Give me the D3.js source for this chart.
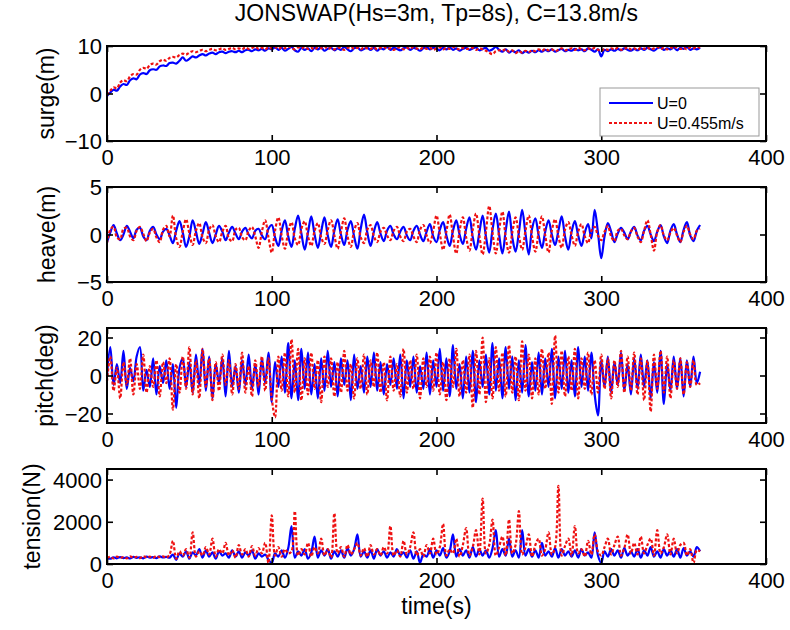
<!DOCTYPE html>
<html>
<head>
<meta charset="utf-8">
<script src="https://cdn.jsdelivr.net/npm/d3@7"></script>
<style>
  html, body { margin: 0; padding: 0; background: #fff; }
  svg { display: block; }
  text { font-family: "Liberation Sans", Arial, sans-serif; fill: #000; }
</style>
</head>
<body>
<svg id="chart" width="790" height="630"></svg>
<script>
// sample times (s), one every 2 s
const time = d3.range(0, 361, 2);

const titleText = "JONSWAP(Hs=3m, Tp=8s), C=13.8m/s";
const seriesNames = ["U=0", "U=0.455m/s"];
const xTicks = [0, 100, 200, 300, 400];

const surgeU0 = [
  -0.5, 0.2, 0.8, 0.6, 1.5, 2.0, 1.8, 2.8, 3.2, 3.0,
  4.0, 4.3, 4.1, 4.9, 5.1, 5.0, 5.7, 5.9, 5.8, 6.4,
  6.5, 6.3, 6.9, 7.6, 6.9, 7.3, 7.8, 7.6, 8.0, 8.3,
  8.0, 8.4, 8.6, 8.3, 8.7, 8.8, 8.5, 8.8, 8.9, 8.7,
  9.0, 8.7, 9.1, 9.2, 8.9, 9.3, 9.1, 9.4, 9.0, 9.5,
  9.3, 9.7, 9.2, 9.6, 9.0, 9.4, 9.8, 9.1, 8.8, 9.6,
  9.2, 9.5, 8.9, 9.6, 9.3, 9.7, 9.0, 9.4, 9.6, 9.1,
  9.5, 9.2, 9.8, 9.3, 8.9, 9.5, 9.7, 9.1, 9.4, 9.6,
  9.2, 9.6, 9.0, 9.5, 9.3, 9.8, 9.2, 9.6, 9.4, 9.1,
  9.5, 9.7, 9.2, 9.6, 9.4, 9.0, 9.5, 9.8, 9.3, 9.6,
  9.4, 9.1, 9.6, 9.3, 9.7, 9.2, 9.5, 9.0, 9.4, 9.6,
  9.2, 9.5, 9.7, 9.1, 9.4, 9.6, 9.0, 9.3, 9.8, 9.2,
  8.8, 9.3, 8.6, 9.0, 8.7, 9.1, 8.5, 8.9, 8.6, 9.0,
  8.7, 9.1, 8.8, 9.2, 8.9, 9.3, 8.8, 9.1, 9.4, 8.9,
  9.2, 9.0, 9.4, 9.1, 9.3, 8.9, 9.5, 9.2, 8.8, 9.3,
  7.8, 9.2, 8.9, 9.3, 9.0, 9.4, 9.1, 9.5, 9.2, 9.0,
  9.4, 9.1, 9.5, 9.2, 9.6, 9.3, 9.0, 9.5, 9.7, 9.2,
  9.5, 9.3, 9.7, 9.1, 9.6, 9.4, 9.8, 9.2, 9.5, 9.3,
  9.6
];
const surgeU455 = [
  -0.3, 0.6, 1.3, 1.1, 2.3, 2.8, 2.6, 3.6, 4.1, 4.0,
  5.0, 5.4, 5.2, 6.0, 6.3, 6.1, 6.8, 7.1, 6.9, 7.5,
  7.7, 7.6, 8.1, 8.4, 8.2, 8.6, 8.9, 8.7, 9.0, 9.2,
  8.9, 9.2, 9.4, 9.1, 9.3, 9.5, 9.2, 9.4, 9.6, 9.3,
  9.5, 9.3, 9.7, 9.4, 9.6, 9.8, 9.4, 9.6, 9.3, 9.7,
  9.5, 9.8, 9.4, 9.7, 9.5, 9.9, 9.6, 9.3, 9.7, 9.5,
  9.8, 9.4, 9.6, 9.3, 9.7, 9.5, 9.9, 9.4, 9.6, 9.3,
  9.7, 9.5, 9.2, 9.6, 9.8, 9.4, 9.6, 9.3, 9.7, 9.5,
  9.4, 9.7, 9.3, 9.6, 9.8, 9.4, 9.5, 9.2, 9.6, 9.7,
  9.3, 9.6, 9.4, 9.8, 9.5, 9.3, 9.7, 9.4, 9.6, 9.2,
  9.5, 9.7, 9.3, 9.6, 9.4, 9.8, 9.5, 9.3, 9.6, 9.4,
  9.4, 9.6, 9.2, 9.5, 9.3, 9.0, 8.6, 8.3, 8.9, 9.1,
  9.0, 9.3, 8.8, 9.1, 8.5, 8.9, 8.6, 9.0, 8.7, 9.1,
  8.9, 9.3, 9.0, 9.4, 9.1, 9.3, 8.9, 9.2, 9.5, 9.1,
  9.3, 9.5, 9.2, 9.6, 9.3, 9.1, 9.5, 9.3, 9.6, 9.2,
  9.0, 9.4, 9.2, 9.5, 9.3, 9.6, 9.2, 9.4, 9.7, 9.3,
  9.5, 9.2, 9.6, 9.4, 9.7, 9.3, 9.5, 9.8, 9.4, 9.6,
  9.3, 9.7, 9.5, 9.8, 9.4, 9.6, 9.3, 9.7, 9.5, 9.8,
  9.6
];

const heaveU0 = [
  -0.8, 0.2, 1.0, 0.1, -0.6, 0.0, 0.9, 0.3, -0.4, 0.5,
  0.7, -0.2, -0.6, 0.4, 0.8, 0.0, -0.5, 0.3, 0.6, -0.1,
  -0.9, 0.4, 1.4, 0.2, -1.3, -0.2, 1.5, 0.3, -1.0, 0.1,
  1.3, 0.2, -0.9, 0.0, 0.9, 0.3, -0.6, 0.2, 0.8, 0.1,
  -0.5, 0.3, 0.7, 0.0, -0.4, 0.4, 0.6, -0.1, -0.5, 0.6,
  1.0, -0.3, -1.2, 0.4, 1.5, -0.2, -1.3, 0.6, 2.0, 0.1,
  -1.6, 0.2, 1.9, 0.0, -1.4, 0.3, 1.8, -0.1, -1.3, 0.4,
  1.6, 0.0, -1.1, 0.5, 1.4, -0.2, -1.5, 0.6, 2.1, 0.2,
  -1.2, 0.3, 1.3, 0.1, -0.7, 0.4, 0.9, 0.0, -0.5, 0.3,
  0.8, -0.1, -0.6, 0.4, 0.9, 0.0, -0.7, 0.3, 1.1, -0.2,
  -0.8, 0.5, 1.3, -0.1, -1.2, 0.4, 1.5, 0.0, -1.0, 0.6,
  1.8, -0.3, -1.6, 0.2, 2.0, -0.2, -1.9, 0.5, 2.2, 0.0,
  -2.0, 0.4, 2.4, -0.3, -1.8, 0.2, 2.6, 0.1, -2.1, 0.6,
  1.7, -0.1, -1.4, 0.3, 1.5, 0.0, -1.1, 0.4, 1.9, -0.2,
  -1.6, 0.3, 1.4, -0.1, -1.2, 0.2, 1.1, -0.4, 2.6, 0.2,
  -2.5, -0.2, 1.2, 0.3, -0.8, 0.1, 0.7, 0.2, -0.5, 0.3,
  0.8, -0.1, -0.6, 0.4, 0.9, 0.0, -0.7, 0.3, 1.0, -0.2,
  -0.9, 0.4, 1.1, 0.0, -0.8, 0.5, 1.3, -0.1, -0.7, 0.4,
  1.0
];
const heaveU455 = [
  -0.9, 0.5, 0.8, -0.3, -0.5, 0.6, 0.7, -0.2, -0.6, 0.4,
  0.8, 0.1, -0.7, 0.2, 0.6, -0.3, -0.8, 0.5, 0.9, -0.2,
  2.0, -0.4, -1.3, 0.3, 1.6, 0.1, -1.1, 0.4, 1.2, -0.3,
  -0.9, 0.5, 1.0, -0.2, -0.8, 0.3, 0.9, -0.4, -0.7, 0.5,
  0.7, -0.3, -0.6, 0.4, 0.8, -0.2, -1.4, 0.3, 1.5, -0.3,
  -1.9, 0.4, 1.8, -0.1, -1.5, 0.3, 1.3, -0.4, -1.1, 0.6,
  1.4, -0.2, -1.2, 0.4, 1.2, -0.3, -1.0, 0.5, 1.5, -0.1,
  -1.5, 0.3, 1.7, -0.2, -1.3, 0.4, 1.2, -0.3, -0.9, 0.5,
  1.0, -0.2, -0.8, 0.3, 0.7, -0.1, -0.6, 0.4, 0.8, -0.2,
  -0.7, 0.3, 0.6, -0.2, -0.8, 0.5, 1.0, -0.1, -0.9, 0.4,
  2.0, 0.1, -1.6, 0.3, 2.1, -0.2, -2.0, 0.4, 1.8, -0.3,
  -1.7, 0.5, 2.2, -0.1, -2.1, 0.3, 3.0, 0.2, -2.0, 0.4,
  2.4, -0.3, -1.9, 0.2, 1.8, -0.1, -1.6, 0.4, 2.0, -0.2,
  -1.8, 0.3, 1.9, -0.1, -1.9, 0.4, 1.6, -0.2, -1.4, 0.5,
  1.3, -0.1, -1.2, 0.3, 1.1, -0.2, -0.9, 0.4, 0.8, -0.1,
  -0.6, 0.3, 0.9, -0.2, -0.7, 0.4, 0.6, -0.1, -0.5, 0.3,
  0.7, -0.2, -0.8, 0.4, 1.5, 0.0, -1.7, 0.3, 1.0, -0.1,
  -0.6, 0.2, 0.7, -0.1, -0.8, 0.3, 0.9, 0.0, -0.5, 0.4,
  0.6
];

const pitchU0 = [
  0, 15, -5, 6, -4, 13, -7, 4, -3, 10,
  15, -8, 3, -6, 9, -10, 5, -4, 8, -7,
  6, -17, 4, 9, -6, 7, -9, 11, -5, 14,
  -8, 10, -12, 6, -4, 9, -11, 13, -6, 5,
  -9, 8, -5, 11, -7, 6, -10, 9, -4, 12,
  -14, 7, -6, 10, -9, 17, -12, 8, -13, 14,
  -7, 12, -10, 6, -12, 9, -8, 13, -6, 7,
  -11, 9, -5, 8, -13, 11, -7, 5, -9, 10,
  -6, 12, -8, 7, -10, 6, -5, 9, -7, 11,
  -12, 8, -6, 10, -9, 5, -7, 12, -10, 8,
  -6, 14, -8, 9, -11, 16, -7, 6, -12, 10,
  -9, 13, -14, 8, -6, 11, -10, 17, -8, 9,
  -12, 15, -7, 10, -13, 8, -9, 16, -11, 7,
  -8, 12, -10, 9, -6, 14, -12, 10, -7, 13,
  -9, 8, -11, 15, -6, 10, -8, 12, -10, -21,
  8, -6, 10, -9, 7, -5, 12, -8, 6, -10,
  9, -7, 11, -6, 8, -12, 7, -9, 13, -15,
  6, -8, 10, -7, 9, -11, 8, -6, 10, -4,
  2
];
const pitchU455 = [
  -3, 10, -8, 4, -12, 7, -5, 9, -10, 6,
  -7, 11, -9, 5, -6, 8, -11, 7, -4, 9,
  -18, 6, -9, 10, -7, 15, -10, 8, -12, 14,
  -6, 9, -13, 7, -8, 11, -5, 8, -10, 6,
  -7, 12, -9, 5, -11, 8, -6, 10, -8, 9,
  -12, -22, 10, -8, 12, -11, 19, -9, 14, -13,
  9, -10, 12, -7, 8, -14, 10, -6, 9, -11,
  7, -9, 13, -8, 6, -12, 9, -7, 11, -10,
  8, -6, 12, -9, 7, -13, 10, -8, 6, -11,
  14, -9, 8, -7, 11, -12, 9, -6, 10, -8,
  12, -10, 7, -13, 9, -6, 14, -11, 8, -9,
  11, -17, 13, -10, 20, -14, 9, -12, 15, -8,
  12, -11, 16, -9, 10, -13, 18, -8, 11, -12,
  9, -10, 14, -7, 12, -15, 21, -9, 13, -11,
  10, -8, 14, -12, 9, -7, 12, -10, 8, -9,
  11, -7, 9, -12, 8, -6, 13, -9, 10, -8,
  12, -10, 9, -13, 8, -19, 11, -7, 13, -9,
  10, -12, 8, -7, 9, -10, 7, -6, 8, -5,
  -4
];

const tensionU0 = [
  300, 250, 320, 270, 330, 280, 310, 260, 340, 290,
  320, 270, 350, 300, 330, 280, 360, 310, 340, 300,
  450, 200, 500, 350, 600, 250, 550, 400, 700, 300,
  650, 350, 550, 250, 600, 400, 500, 300, 650, 350,
  600, 300, 550, 400, 650, 250, 500, 350, 450, 200,
  50, 500, 350, 650, 300, 750, 1800, 300, 600, 400,
  700, 250, 550, 1300, 300, 650, 400, 700, 250, 600,
  350, 650, 300, 750, 400, 700, 1400, 350, 600, 300,
  650, 250, 700, 400, 600, 300, 550, 350, 700, 400,
  550, 300, 650, 250, 600, 50, 450, 350, 700, 300,
  650, 400, 750, 300, 600, 1400, 350, 700, 400, 650,
  300, 800, 350, 700, 400, 650, 300, 750, 1600, 350,
  700, 400, 1200, 350, 650, 300, 1600, 400, 700, 350,
  650, 300, 1000, 400, 600, 350, 750, 300, 700, 400,
  600, 350, 650, 300, 700, 400, 550, 300, 1500, 400,
  50, 600, 350, 700, 400, 650, 300, 750, 400, 600,
  350, 700, 300, 650, 400, 800, 350, 600, 300, 700,
  400, 650, 350, 700, 300, 750, 400, 600, 350, 800,
  600
];
const tensionU455 = [
  280, 340, 260, 350, 290, 330, 270, 360, 300, 340,
  280, 370, 310, 350, 290, 380, 320, 360, 300, 450,
  1100, 250, 600, 400, 700, 300, 1500, 350, 600, 400,
  800, 450, 1200, 350, 700, 500, 1000, 400, 650, 300,
  900, 450, 700, 350, 850, 400, 750, 500, 1000, 50,
  2300, 400, 800, 350, 700, 500, 600, 2500, 400, 700,
  450, 1000, 350, 800, 500, 1200, 400, 700, 300, 2400,
  500, 800, 350, 900, 450, 700, 1000, 400, 750, 350,
  900, 450, 700, 400, 800, 500, 1800, 400, 650, 350,
  1100, 450, 800, 1500, 400, 700, 350, 900, 500, 1200,
  450, 800, 1900, 400, 700, 500, 1200, 350, 900, 1700,
  400, 800, 1600, 450, 3100, 500, 900, 2100, 400, 800,
  1300, 400, 2100, 500, 900, 2500, 450, 800, 1400, 350,
  900, 1200, 400, 700, 1500, 450, 800, 3700, 400, 850,
  1200, 400, 1800, 500, 700, 350, 1100, 450, 1400, 600,
  400, 800, 1200, 450, 900, 1300, 400, 750, 1400, 500,
  1000, 450, 1300, 500, 900, 1200, 400, 1600, 500, 800,
  1400, 450, 1200, 500, 900, 1000, 400, 700, 50, 650,
  600
];

const panels = [
  { label: "surge(m)", domain: [-10, 10], ticks: [-10, 0, 10], u0: surgeU0, u455: surgeU455, labelX: 46 },
  { label: "heave(m)", domain: [-5, 5], ticks: [-5, 0, 5], u0: heaveU0, u455: heaveU455, labelX: 47 },
  { label: "pitch(deg)", domain: [-25, 25], ticks: [-20, 0, 20], u0: pitchU0, u455: pitchU455, labelX: 45 },
  { label: "tension(N)", domain: [0, 4500], ticks: [0, 2000, 4000], u0: tensionU0, u455: tensionU455, labelX: 32 }
];

const BLUE = "#0000ff";
const RED = "#ee1111";
const left = 107, right = 766;
const panelTop = [46, 187, 328, 469];
const panelH = 95;
const tickLen = 6;
const fontTick = 22;

const svg = d3.select("#chart");
const x = d3.scaleLinear().domain([0, 400]).range([left, right]);

svg.append("text")
  .attr("x", (left + right) / 2).attr("y", 21)
  .attr("text-anchor", "middle").attr("font-size", 23)
  .text(titleText);

panels.forEach((p, i) => {
  const top = panelTop[i], bottom = top + panelH;
  const y = d3.scaleLinear().domain(p.domain).range([bottom, top]);
  const g = svg.append("g");

  const line = d3.line()
    .x((d, k) => x(time[k]))
    .y(d => y(d))
    .curve(d3.curveCatmullRom.alpha(0.5));

  g.append("path").datum(p.u0)
    .attr("d", line).attr("fill", "none")
    .attr("stroke", BLUE).attr("stroke-width", 2.2);
  g.append("path").datum(p.u455)
    .attr("d", line).attr("fill", "none")
    .attr("stroke", RED).attr("stroke-width", 2.2)
    .attr("stroke-dasharray", "3,2");

  // axes: ticks point inward on all four sides
  const xb = g.append("g").attr("transform", `translate(0,${bottom})`)
    .call(d3.axisBottom(x).tickValues(xTicks).tickSize(-tickLen).tickPadding(4));
  const xt = g.append("g").attr("transform", `translate(0,${top})`)
    .call(d3.axisTop(x).tickValues(xTicks).tickSize(-tickLen).tickFormat(""));
  const yl = g.append("g").attr("transform", `translate(${left},0)`)
    .call(d3.axisLeft(y).tickValues(p.ticks).tickSize(-tickLen).tickPadding(5).tickFormat(d3.format("d")));
  const yr = g.append("g").attr("transform", `translate(${right},0)`)
    .call(d3.axisRight(y).tickValues(p.ticks).tickSize(-tickLen).tickFormat(""));
  [xb, xt, yl, yr].forEach(a => {
    a.select(".domain").remove();
    a.selectAll(".tick line").attr("stroke", "#000").attr("stroke-width", 1.6);
    a.selectAll(".tick text").attr("font-size", fontTick).attr("font-family", "Liberation Sans, Arial, sans-serif").attr("fill", "#000");
  });
  xb.selectAll(".tick text").attr("dy", "0.9em");
  yl.selectAll(".tick text").attr("dy", "0.36em");

  g.append("rect")
    .attr("x", left).attr("y", top)
    .attr("width", right - left).attr("height", panelH)
    .attr("fill", "none").attr("stroke", "#000").attr("stroke-width", 2);

  g.append("text")
    .attr("transform", `translate(${p.labelX},${(top + bottom) / 2}) rotate(-90)`)
    .attr("text-anchor", "middle").attr("dy", "0.35em")
    .attr("font-size", 23)
    .text(p.label);

  if (i === 0) drawLegend(g);
});

svg.append("text")
  .attr("x", (left + right) / 2).attr("y", 614)
  .attr("text-anchor", "middle").attr("font-size", 23)
  .text("time(s)");

function drawLegend(g) {
  const lg = g.append("g").attr("transform", "translate(600,88)");
  lg.append("rect").attr("width", 159).attr("height", 48)
    .attr("fill", "#fff").attr("stroke", "#999").attr("stroke-width", 1);
  const rows = [
    { name: seriesNames[0], color: BLUE, dash: null, y: 15 },
    { name: seriesNames[1], color: RED, dash: "3,2", y: 35 }
  ];
  rows.forEach(r => {
    lg.append("line").attr("x1", 9).attr("x2", 53).attr("y1", r.y).attr("y2", r.y)
      .attr("stroke", r.color).attr("stroke-width", 2).attr("stroke-dasharray", r.dash);
    lg.append("text").attr("x", 57).attr("y", r.y).attr("dy", "0.35em")
      .attr("font-size", 16).text(r.name);
  });
}
</script>
</body>
</html>
